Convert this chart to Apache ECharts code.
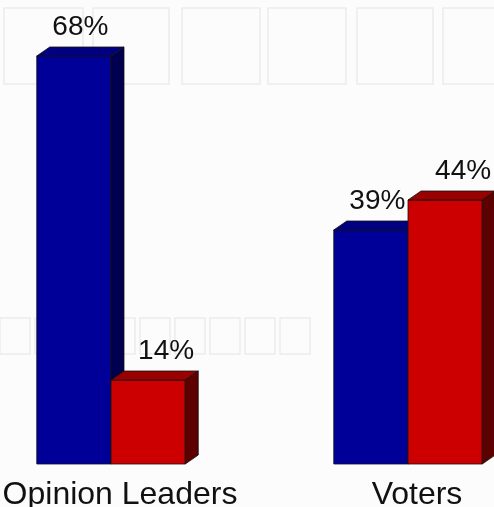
<!DOCTYPE html>
<html><head><meta charset="utf-8">
<script src="https://cdn.jsdelivr.net/npm/echarts@6/dist/echarts.min.js"></script>
<style>html,body{margin:0;padding:0;background:#fff}#c{width:494px;height:507px}</style>
</head><body><div id="c"></div>
<script>
const categories = ['Opinion Leaders', 'Voters'];
const blueValues = [68, 39];
const redValues = [14, 44];
const seriesNames = ['Blue', 'Red'];

const palettes = [
  {front: '#000099', top: '#000080', side: '#00004f', labelShift: 6.5},
  {front: '#cc0000', top: '#990000', side: '#5c0000', labelShift: 18}
];
const FONT = '"Liberation Sans", Arial, sans-serif';

function makeRender(sIdx) {
  return function (params, api) {
    const idx = api.value(0), val = api.value(1);
    const base = api.coord([idx, 0]);
    const topP = api.coord([idx, val]);
    const bandW = api.size([1, 0])[0];
    const barW = bandW * 0.25;
    const x0 = base[0] - barW + sIdx * barW;
    const x1 = x0 + barW;
    const yb = base[1], yt = topP[1];
    const dx = 13, dy = 9;
    const pal = palettes[sIdx];
    const line = {stroke: '#111', lineWidth: 0.8};
    const children = [
      {type: 'polygon', shape: {points: [[x0, yb], [x1, yb], [x1, yt], [x0, yt]]},
       style: Object.assign({fill: pal.front}, line)},
      {type: 'polygon', shape: {points: [[x0, yt], [x1, yt], [x1 + dx, yt - dy], [x0 + dx, yt - dy]]},
       style: Object.assign({fill: pal.top}, line)},
      {type: 'polygon', shape: {points: [[x1, yt], [x1, yb], [x1 + dx, yb - dy], [x1 + dx, yt - dy]]},
       style: Object.assign({fill: pal.side}, line)},
      {type: 'text', style: {text: val + '%', x: (x0 + x1) / 2 + pal.labelShift, y: yt - dy - 6,
        textAlign: 'center', textVerticalAlign: 'bottom', fill: '#111',
        font: '28px ' + FONT}}
    ];
    if (sIdx === 0) {
      children.push({type: 'text', style: {text: categories[idx], x: base[0] + 9, y: yb + 15,
        textAlign: 'center', textVerticalAlign: 'top', fill: '#111', font: '32px ' + FONT}});
    }
    return {type: 'group', children: children};
  };
}

function bgRects() {
  const els = [];
  const boxes = [[4, 8, 79, 76], [93, 8, 76, 76], [182, 8, 78, 76], [268, 8, 78, 76], [357, 8, 76, 76], [443, 8, 60, 76],
                 [0, 318, 30, 36], [35, 318, 30, 36], [70, 318, 30, 36], [105, 318, 30, 36], [140, 318, 30, 36], [175, 318, 30, 36], [210, 318, 30, 36], [245, 318, 30, 36], [280, 318, 30, 36]];
  boxes.forEach(b => els.push({type: 'rect', silent: true, z: -10,
    shape: {x: b[0], y: b[1], width: b[2], height: b[3]},
    style: {fill: 'rgba(0,0,0,0)', stroke: '#ebebeb', lineWidth: 1.5}}));
  return els;
}

const chart = echarts.init(document.getElementById('c'), null, {renderer: 'canvas'});
chart.setOption({
  backgroundColor: '#fcfcfc',
  animation: false,
  graphic: bgRects(),
  grid: {left: 0, right: 0, top: 44, bottom: 43, containLabel: false},
  xAxis: {type: 'value', min: -111 / 297, max: -111 / 297 + 494 / 297, show: false, splitLine: {show: false}},
  yAxis: {type: 'value', min: 0, max: 70, show: false, splitLine: {show: false}},
  series: [
    {name: seriesNames[0], type: 'custom', renderItem: makeRender(0), clip: false,
     data: blueValues.map((v, i) => [i, v]), encode: {x: 0, y: 1}},
    {name: seriesNames[1], type: 'custom', renderItem: makeRender(1), clip: false,
     data: redValues.map((v, i) => [i, v]), encode: {x: 0, y: 1}}
  ]
});
</script></body></html>
